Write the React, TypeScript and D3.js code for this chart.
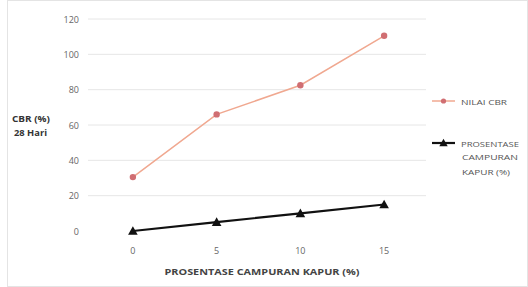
import React from "react";
import * as d3 from "d3";

const categories = ["0", "5", "10", "15"];
const nilaiCBR = [30.5, 66, 82.5, 110.5];
const prosentase = [0, 5, 10, 15];
const yTicks = [0, 20, 40, 60, 80, 100, 120];

const W = 528;
const H = 287;
const M = { left: 91, right: 102, top: 19, bottom: 56 };

export default function App() {
  const x = d3
    .scaleBand<string>()
    .domain(categories)
    .range([M.left, W - M.right]);
  const y = d3.scaleLinear().domain([0, 120]).range([H - M.bottom, M.top]);
  const cx = (c: string) => (x(c) as number) + x.bandwidth() / 2;
  const line = d3
    .line<number>()
    .x((_, i) => cx(categories[i]))
    .y((d) => y(d));
  const orange = "#F0A890";
  const markerC = "#D06E72";
  const font = "'Open Sans', 'DejaVu Sans', sans-serif";
  const tri = (px: number, py: number, s: number) =>
    `M${px},${py - s}L${px + s},${py + s * 0.8}L${px - s},${py + s * 0.8}Z`;

  return (
    <svg
      width={W}
      height={H}
      style={{ position: "absolute", left: 0, top: 0, background: "#fff" }}
      fontFamily={font}
    >
      <rect x={7.5} y={0.5} width={W - 8} height={H - 1} fill="#fff" stroke="#e4e4e4" />
      {yTicks.map((t) => (
        <g key={t}>
          {t > 0 && (
            <line
              x1={M.left - 3}
              x2={W - M.right}
              y1={y(t)}
              y2={y(t)}
              stroke="#e6e6e6"
              strokeWidth={1}
            />
          )}
          <text x={79} y={y(t) + 3.5} textAnchor="end" fontSize={9} fill="#666">
            {t}
          </text>
        </g>
      ))}
      {categories.map((c) => (
        <text key={c} x={cx(c)} y={253.5} textAnchor="middle" fontSize={9} fill="#666">
          {c}
        </text>
      ))}
      <path d={line(nilaiCBR) as string} fill="none" stroke={orange} strokeWidth={1.5} />
      {nilaiCBR.map((v, i) => (
        <circle key={i} cx={cx(categories[i])} cy={y(v)} r={3.2} fill={markerC} />
      ))}
      <path d={line(prosentase) as string} fill="none" stroke="#111" strokeWidth={2.2} />
      {prosentase.map((v, i) => (
        <path key={i} d={tri(cx(categories[i]), y(v), 4.8)} fill="#111" />
      ))}
      <text x={31} y={121.5} textAnchor="middle" fontSize={8.5} fontWeight="bold" fill="#333" textLength={38} lengthAdjust="spacingAndGlyphs">
        CBR (%)
      </text>
      <text x={30.5} y={136} textAnchor="middle" fontSize={8.5} fontWeight="bold" fill="#333" textLength={33} lengthAdjust="spacingAndGlyphs">
        28 Hari
      </text>
      <text
        x={262}
        y={275}
        textAnchor="middle"
        fontSize={8}
        fontWeight="bold"
        fill="#444"
        textLength={195}
        lengthAdjust="spacingAndGlyphs"
      >
        PROSENTASE CAMPURAN KAPUR (%)
      </text>
      <line x1={432} x2={455} y1={101} y2={101} stroke={orange} strokeWidth={1.5} />
      <circle cx={443.5} cy={101} r={2.6} fill={markerC} />
      <text x={461} y={104.5} fontSize={8} fill="#555" textLength={46} lengthAdjust="spacingAndGlyphs">
        NILAI CBR
      </text>
      <line x1={432} x2={455} y1={143} y2={143} stroke="#111" strokeWidth={2.2} />
      <path d={tri(443.5, 143, 4.2)} fill="#111" />
      <text x={461} y={146.5} fontSize={8} fill="#555" textLength={58} lengthAdjust="spacingAndGlyphs">
        PROSENTASE
      </text>
      <text x={462} y={160} fontSize={8} fill="#555" textLength={56} lengthAdjust="spacingAndGlyphs">
        CAMPURAN
      </text>
      <text x={462} y={175} fontSize={8} fill="#555" textLength={48} lengthAdjust="spacingAndGlyphs">
        KAPUR (%)
      </text>
    </svg>
  );
}
